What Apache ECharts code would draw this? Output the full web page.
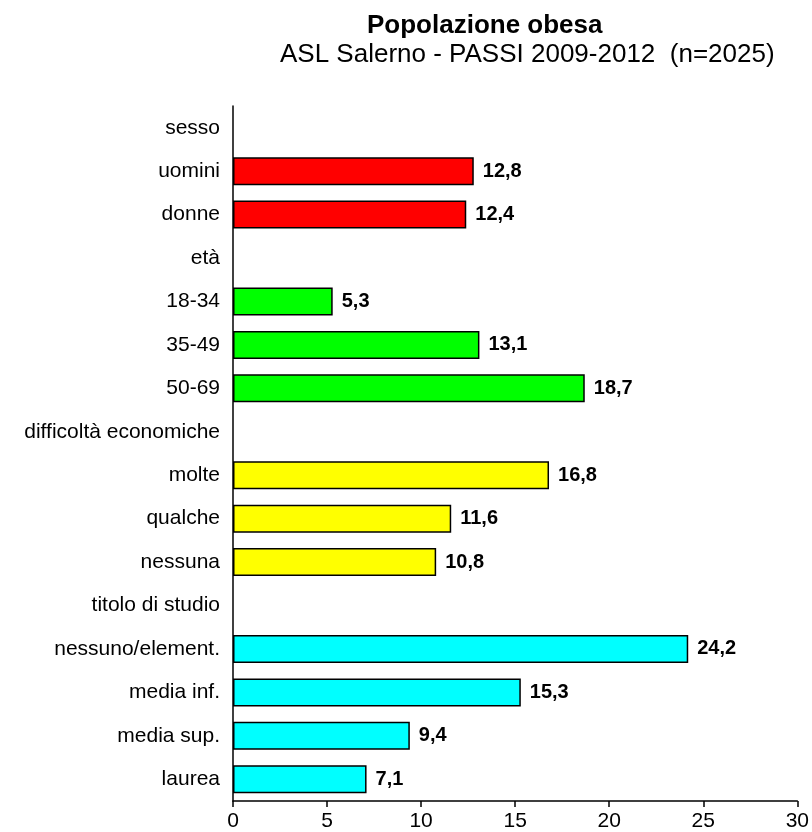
<!DOCTYPE html>
<html>
<head>
<meta charset="utf-8">
<script src="https://cdn.jsdelivr.net/npm/echarts@6/dist/echarts.min.js"></script>
<style>html,body{margin:0;padding:0;background:#fff}#c{width:812px;height:832px}</style>
</head>
<body>
<div id="c"></div>
<script>
const categories = ['sesso','uomini','donne','età','18-34','35-49','50-69','difficoltà economiche','molte','qualche','nessuna','titolo di studio','nessuno/element.','media inf.','media sup.','laurea'];
const values = [null,12.8,12.4,null,5.3,13.1,18.7,null,16.8,11.6,10.8,null,24.2,15.3,9.4,7.1];
const groups = [0,0,0,1,1,1,1,2,2,2,2,3,3,3,3,3];
const xTicks = [0,5,10,15,20,25,30];
const groupColors = ['#FF0000','#00FF00','#FFFF00','#00FFFF'];
const titleText = 'Popolazione obesa';
const subtitleText = 'ASL Salerno - PASSI 2009-2012  (n=2025)';

const FONT = 'Liberation Sans, Arial, sans-serif';
const chart = echarts.init(document.getElementById('c'));
chart.setOption({
  animation: false,
  backgroundColor: '#fff',
  title: [
    {text: titleText, left: 362, top: 8, textStyle:{fontFamily:FONT, fontWeight:'bold', fontSize:26, color:'#000'}},
    {text: subtitleText, left: 275, top: 37, textStyle:{fontFamily:FONT, fontWeight:'normal', fontSize:26, color:'#000'}}
  ],
  grid: {left: 233, right: 14, top: 106, bottom: 31, containLabel: false},
  xAxis: {
    type: 'value', min: xTicks[0], max: xTicks[xTicks.length-1], interval: 5,
    axisLine: {show: true, lineStyle: {color: '#000', width: 1.5}},
    axisTick: {show: true, length: 6, lineStyle: {color: '#000', width: 1.5}},
    axisLabel: {color: '#000', fontFamily: FONT, fontSize: 21, margin: 10},
    splitLine: {show: false}
  },
  yAxis: {
    type: 'category', data: categories, inverse: true,
    axisLine: {show: true, lineStyle: {color: '#000', width: 1.5}},
    axisTick: {show: false},
    axisLabel: {color: '#000', fontFamily: FONT, fontSize: 21, margin: 13}
  },
  series: [{
    type: 'bar',
    barWidth: 28,
    data: values.map((v, i) => ({
      value: v,
      itemStyle: {color: groupColors[groups[i]], borderColor: '#000', borderWidth: 1.5}
    })),
    label: {
      show: true, position: 'right', distance: 9,
      color: '#000', fontFamily: FONT, fontWeight: 'bold', fontSize: 20,
      formatter: p => p.value == null ? '' : String(p.value.toFixed(1)).replace('.', ',')
    }
  }]
});
</script>
</body>
</html>
